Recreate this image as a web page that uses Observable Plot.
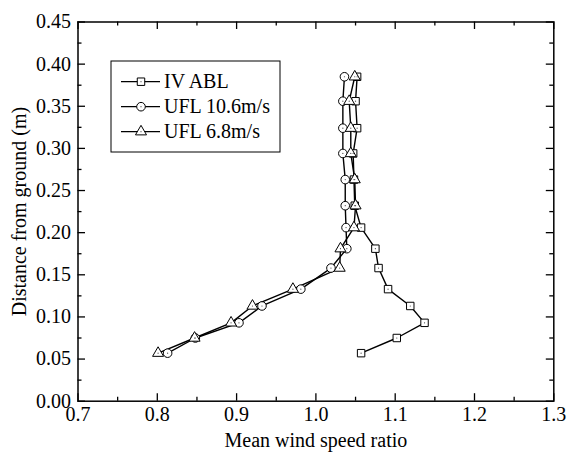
<!DOCTYPE html>
<html><head><meta charset="utf-8">
<script src="https://cdn.jsdelivr.net/npm/d3@7"></script>
<script src="https://cdn.jsdelivr.net/npm/@observablehq/plot@0.6"></script>
<style>
body{margin:0;background:#fff}
#wrap{position:relative;width:568px;height:454px;font-family:"Liberation Serif",serif}
#legend{position:absolute;left:0;top:0}
</style>
</head><body><div id="wrap"></div>
<script>
// Heights above ground (m) shared by all series
const heights = [0.057,0.075,0.093,0.113,0.133,0.158,0.181,0.206,0.232,0.263,0.294,0.324,0.356,0.385];
// Mean wind speed ratio per series
const ivABL  = [1.057,1.102,1.137,1.119,1.091,1.079,1.075,1.057,1.049,1.048,1.047,1.052,1.050,1.052];
const ufl106 = [0.813,0.848,0.903,0.932,0.981,1.019,1.039,1.038,1.037,1.037,1.034,1.034,1.034,1.036];
const ufl68  = [0.801,0.847,0.893,0.920,0.971,1.030,1.031,1.048,1.050,1.049,1.044,1.044,1.042,1.049];
const seriesNames = ["IV ABL","UFL 10.6m/s","UFL 6.8m/s"];
const seriesSymbols = ["square","circle","triangle"];
const xTicks = [0.7,0.8,0.9,1.0,1.1,1.2,1.3];
const xMinor = [0.75,0.85,0.95,1.05,1.15,1.25];
const yTicks = [0,0.05,0.10,0.15,0.20,0.25,0.30,0.35,0.40,0.45];
const yMinor = [0.025,0.075,0.125,0.175,0.225,0.275,0.325,0.375,0.425];
const xTitle = "Mean wind speed ratio";
const yTitle = "Distance from ground (m)";

const FONT = "Liberation Serif";
const seriesValues = [ivABL, ufl106, ufl68];
const rows = [];
seriesValues.forEach((vals, s) => vals.forEach((v, i) => rows.push({series: seriesNames[s], sym: seriesSymbols[s], x: v, y: heights[i]})));

const W = 568, H = 454;
const mL = 77.5, mR = 14.7, mT = 21.5, mB = 53.3;
const FH = H - mT - mB, FW = W - mL - mR;
const symR = {square: 4.2, circle: 4.3, triangle: 4.1};

const marks = [
  Plot.axisX({ticks: xTicks, tickSize: 0, tickPadding: 6, tickFormat: d3.format(".1f"), fontSize: 20, fontFamily: FONT,
    label: xTitle, labelAnchor: "center", labelOffset: 46, labelArrow: "none"}),
  Plot.axisY({ticks: yTicks, tickSize: 0, tickPadding: 7, tickFormat: d3.format(".2f"), fontSize: 20, fontFamily: FONT,
    label: yTitle, labelAnchor: "center", labelOffset: 66, labelArrow: "none"}),
  // inward ticks, all four sides
  Plot.tickX(xTicks, {x: d => d, insetTop: FH - 7.5, stroke: "black", strokeWidth: 1.3}),
  Plot.tickX(xTicks, {x: d => d, insetBottom: FH - 7.5, stroke: "black", strokeWidth: 1.3}),
  Plot.tickX(xMinor, {x: d => d, insetTop: FH - 4, stroke: "black", strokeWidth: 1.3}),
  Plot.tickX(xMinor, {x: d => d, insetBottom: FH - 4, stroke: "black", strokeWidth: 1.3}),
  Plot.tickY(yTicks, {y: d => d, insetRight: FW - 7.5, stroke: "black", strokeWidth: 1.3}),
  Plot.tickY(yTicks, {y: d => d, insetLeft: FW - 7.5, stroke: "black", strokeWidth: 1.3}),
  Plot.tickY(yMinor, {y: d => d, insetRight: FW - 4, stroke: "black", strokeWidth: 1.3}),
  Plot.tickY(yMinor, {y: d => d, insetLeft: FW - 4, stroke: "black", strokeWidth: 1.3}),
  Plot.frame({stroke: "black", strokeWidth: 1.5}),
  Plot.line(rows, {x: "x", y: "y", z: "series", stroke: "black", strokeWidth: 1.4})
];
seriesSymbols.forEach(sym => {
  marks.push(Plot.dot(rows.filter(d => d.sym === sym), {x: "x", y: "y", symbol: sym, r: symR[sym], fill: "white", stroke: "black", strokeWidth: 1}));
});
marks.push(Plot.dot(rows, {x: "x", y: "y", r: 0.6, fill: "#444", stroke: "none"}));

const chart = Plot.plot({
  width: W, height: H,
  marginLeft: mL, marginRight: mR, marginTop: mT, marginBottom: mB,
  style: {fontFamily: FONT, fontSize: "20px"},
  x: {domain: [0.7, 1.3]},
  y: {domain: [0, 0.45]},
  marks
});
d3.select(chart).selectAll("text").style("font-family", FONT).attr("font-family", FONT);
const wrap = document.getElementById("wrap");
wrap.appendChild(chart);

// Legend overlay
const leg = d3.select(wrap).append("svg").attr("id", "legend").attr("width", W).attr("height", H);
const lx = 111, ly = 61, lw = 169, lh = 91;
leg.append("rect").attr("x", lx).attr("y", ly).attr("width", lw).attr("height", lh)
  .attr("fill", "white").attr("stroke", "black").attr("stroke-width", 1);
seriesNames.forEach((name, i) => {
  const cy = 81.7 + i * 25;
  leg.append("line").attr("x1", 121).attr("x2", 160).attr("y1", cy).attr("y2", cy).attr("stroke", "black").attr("stroke-width", 1.3);
  const sym = {square: d3.symbolSquare, circle: d3.symbolCircle, triangle: d3.symbolTriangle}[seriesSymbols[i]];
  const r = symR[seriesSymbols[i]];
  leg.append("path").attr("d", d3.symbol(sym, Math.PI * r * r)()).attr("transform", `translate(141,${cy})`)
    .attr("fill", "white").attr("stroke", "black").attr("stroke-width", 1);
  leg.append("circle").attr("cx", 141).attr("cy", cy).attr("r", 0.6).attr("fill", "#444");
  leg.append("text").attr("x", 164).attr("y", cy + 6.5).attr("font-size", 20)
    .attr("font-family", FONT).text(name);
});
</script>
</body></html>
